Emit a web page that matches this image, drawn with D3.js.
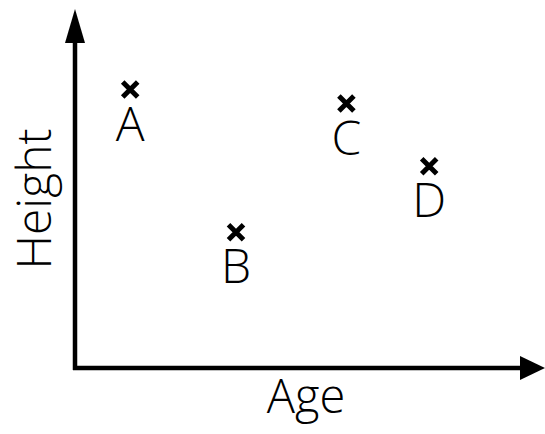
<!DOCTYPE html>
<html>
<head>
<meta charset="utf-8">
<script src="https://cdn.jsdelivr.net/npm/d3@7"></script>
<style>
  html, body { margin: 0; padding: 0; background: #fff; }
  svg { display: block; }
  text { font-family: "Open Sans", "DejaVu Sans", sans-serif; font-weight: 300; fill: #000; }
</style>
</head>
<body>
<div id="chart"></div>
<script>
  // --- data (arbitrary units)
  const labels = ["A", "B", "C", "D"];
  const ages = [1.2, 3.5, 5.9, 7.7];
  const heights = [8.0, 3.9, 7.6, 5.8];
  const xTitle = "Age";
  const yTitle = "Height";

  const W = 545, H = 434;
  const svg = d3.select("#chart").append("svg").attr("width", W).attr("height", H);

  const x = d3.scaleLinear().domain([0, 10]).range([75, 535]);
  const y = d3.scaleLinear().domain([0, 10]).range([368, 20]);

  const axisW = 4.5;

  // y axis with arrow
  svg.append("line")
    .attr("x1", x(0)).attr("x2", x(0))
    .attr("y1", y(0) + 2).attr("y2", 40)
    .attr("stroke", "#000").attr("stroke-width", axisW);
  svg.append("path")
    .attr("d", `M${x(0)},9 L${x(0) - 10},43 L${x(0) + 10},43 Z`)
    .attr("fill", "#000");

  // x axis with arrow
  svg.append("line")
    .attr("x1", x(0) - 2).attr("x2", 522)
    .attr("y1", y(0)).attr("y2", y(0))
    .attr("stroke", "#000").attr("stroke-width", axisW);
  svg.append("path")
    .attr("d", `M545,${y(0)} L520,${y(0) - 12} L520,${y(0) + 12} Z`)
    .attr("fill", "#000");

  // points
  const pts = labels.map((l, i) => ({ label: l, age: ages[i], height: heights[i] }));
  const s = 7.5;
  const g = svg.selectAll("g.pt").data(pts).enter().append("g")
    .attr("class", "pt")
    .attr("transform", d => `translate(${x(d.age)},${y(d.height)})`);
  g.append("path")
    .attr("d", `M${-s},${-s} L${s},${s} M${-s},${s} L${s},${-s}`)
    .attr("stroke", "#000").attr("stroke-width", 5).attr("fill", "none");
  g.append("text")
    .attr("y", 51)
    .attr("text-anchor", "middle")
    .style("font-size", "48px")
    .text(d => d.label);

  // axis titles
  svg.append("text")
    .attr("x", 306).attr("y", 413)
    .attr("text-anchor", "middle")
    .style("font-size", "47px")
    .text(xTitle);
  svg.append("text")
    .attr("transform", "translate(51,199) rotate(-90)")
    .attr("text-anchor", "middle")
    .style("font-size", "48px")
    .text(yTitle);
</script>
</body>
</html>
